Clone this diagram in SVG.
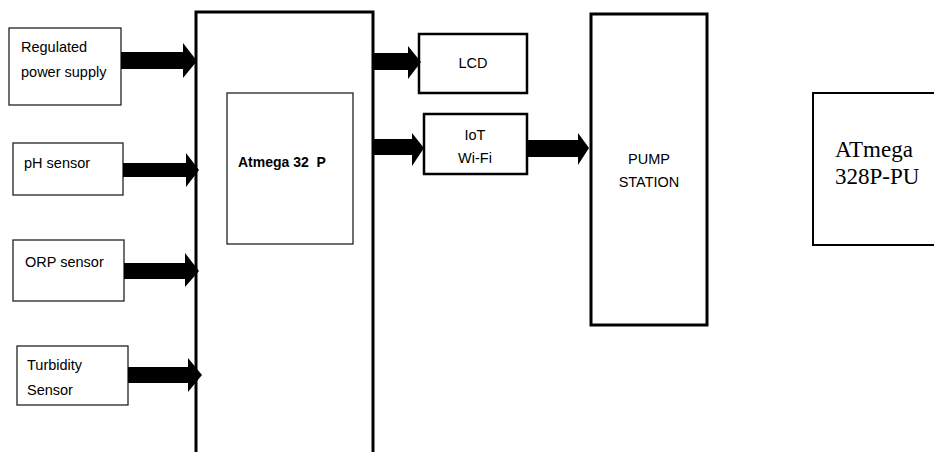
<svg xmlns="http://www.w3.org/2000/svg" width="934" height="452" viewBox="0 0 934 452">
<style>
.thin{fill:#fff;stroke:#222;stroke-width:1.3}
.thick{fill:#fff;stroke:#000;stroke-width:3}
.mid{fill:#fff;stroke:#000;stroke-width:2.5}
.t{font-family:"Liberation Sans",Arial,sans-serif;font-size:14.5px;fill:#000}
.c{text-anchor:middle}
.b{font-weight:bold;font-size:14px;white-space:pre}
.serif{font-family:"Liberation Serif","Times New Roman",serif;font-size:23px;fill:#000}
.arr{fill:#000;stroke:none}
</style>
<rect width="934" height="452" fill="#fff"/>
<g id="atmega-board">
<rect class="thick" x="196" y="12" width="177" height="460"/>
</g>
<g id="atmega32p">
<rect class="thin" x="227" y="93" width="126" height="151"/>
<text class="t b" x="238" y="167" xml:space="preserve">Atmega 32  P</text>
</g>
<g id="power-supply">
<rect class="thin" x="9" y="28" width="112" height="77"/>
<text class="t" x="21" y="52">Regulated</text>
<text class="t" x="21" y="77">power supply</text>
</g>
<g id="ph-sensor">
<rect class="thin" x="13" y="143" width="110" height="52"/>
<text class="t" x="24" y="168">pH sensor</text>
</g>
<g id="orp-sensor">
<rect class="thin" x="13" y="240" width="111" height="61"/>
<text class="t" x="25" y="267">ORP sensor</text>
</g>
<g id="turbidity-sensor">
<rect class="thin" x="17" y="346" width="111" height="59"/>
<text class="t" x="27" y="370">Turbidity</text>
<text class="t" x="27" y="395">Sensor</text>
</g>
<g id="lcd">
<rect class="mid" x="419" y="34" width="108" height="59"/>
<text class="t c" x="473" y="68">LCD</text>
</g>
<g id="iot-wifi">
<rect class="mid" x="424" y="114" width="103" height="60"/>
<text class="t c" x="475" y="140">IoT</text>
<text class="t c" x="475" y="163">Wi-Fi</text>
</g>
<g id="pump-station">
<rect class="thick" x="591" y="14" width="116" height="311"/>
<text class="t c" x="649" y="164">PUMP</text>
<text class="t c" x="649" y="187">STATION</text>
</g>
<g id="atmega328p">
<rect fill="#fff" stroke="#000" stroke-width="2" x="813" y="93" width="130" height="152"/>
<text class="serif" x="835" y="157">ATmega</text>
<text class="serif" x="835" y="184">328P-PU</text>
</g>
<g id="connectors">
<polygon class="arr" points="121,52 183,52 183,43 197,61 183,78 183,69 121,69"/>
<polygon class="arr" points="123,163 186,163 186,153 199,170 186,187 186,177 123,177"/>
<polygon class="arr" points="124,263 185,263 185,253 199,271 185,287 185,279 124,279"/>
<polygon class="arr" points="128,367 188,367 188,358 202,375 188,392 188,383 128,383"/>
<polygon class="arr" points="373,53 408,53 408,46 421,62 408,79 408,70 373,70"/>
<polygon class="arr" points="373,139 412,139 412,133 424,148 412,166 412,155 373,155"/>
<polygon class="arr" points="527,140 578,140 578,133 589,148 578,165 578,157 527,157"/>
</g>
</svg>
